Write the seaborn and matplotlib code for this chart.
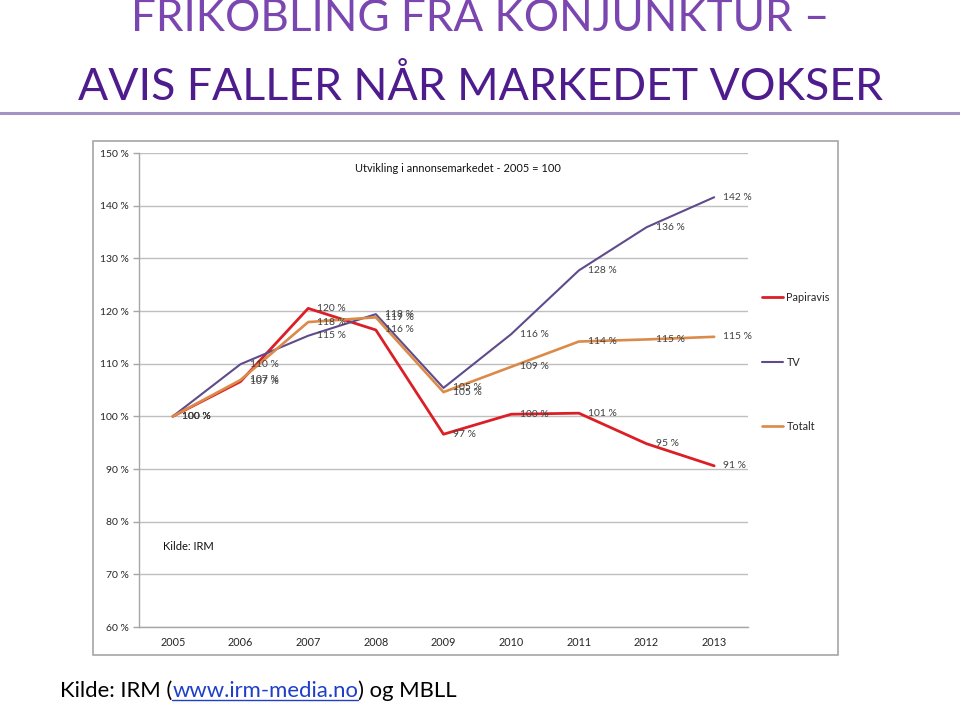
import numpy as np
import pandas as pd
import matplotlib
matplotlib.use('Agg')
import matplotlib.pyplot as plt
import seaborn as sns
from matplotlib.ticker import FuncFormatter
from matplotlib.patches import Rectangle
from matplotlib.lines import Line2D

# ---------------- data ----------------
years = ['2005', '2006', '2007', '2008', '2009', '2010', '2011', '2012', '2013']
series_names = ['Papiravis', 'TV', 'Totalt']
papiravis = [100.0, 106.6, 120.5, 116.4, 96.6, 100.4, 100.6, 94.8, 90.6]
tv = [100.0, 109.9, 115.3, 119.4, 105.4, 115.6, 127.7, 135.9, 141.6]
totalt = [100.0, 106.9, 117.9, 118.8, 104.6, 109.4, 114.2, 114.6, 115.1]
y_ticks = [60, 70, 80, 90, 100, 110, 120, 130, 140, 150]

title_line1 = 'FRIKOBLING FRA KONJUNKTUR \u2013'
title_line2 = 'AVIS FALLER N\u00c5R MARKEDET VOKSER'
chart_title = 'Utvikling i annonsemarkedet - 2005 = 100'
source_note = 'Kilde: IRM'
footer_parts = ['Kilde: IRM (', 'www.irm-media.no', ') og MBLL']

df = pd.DataFrame({
    'Year': years * 3,
    'idx': list(range(len(years))) * 3,
    'Series': sum([[n] * len(years) for n in series_names], []),
    'Value': papiravis + tv + totalt,
})

colors = {'Papiravis': '#DC1E26', 'TV': '#5F4B8B', 'Totalt': '#DB8A48'}
widths = {'Papiravis': 2.0, 'TV': 1.5, 'Totalt': 1.9}

# ---------------- style ----------------
sns.set_theme(style='white')
plt.rcParams['font.family'] = ['Lato', 'DejaVu Sans']

W, H = 960, 702
fig = plt.figure(figsize=(9.6, 7.02), dpi=100)


def fx(px):
    return px / W


def fy(py):
    return 1 - py / H


# chart box
fig.patches.append(Rectangle((fx(93), fy(655)), fx(838) - fx(93), fy(141) - fy(655),
                             transform=fig.transFigure, fill=False, ec='#A6A6A6', lw=1.2))

ax = fig.add_axes([fx(139), fy(627), fx(748) - fx(139), fy(153) - fy(627)])
ax.set_facecolor('none')

for name in series_names:
    sub = df[df['Series'] == name]
    sns.lineplot(data=sub, x='idx', y='Value', color=colors[name], lw=widths[name],
                 ax=ax, label=name)

for name in series_names:
    sub = df[df['Series'] == name]
    for i, v in zip(sub['idx'], sub['Value']):
        ax.annotate(f"{int(round(v))} %", (i, v), xytext=(6.5, 0), textcoords='offset points',
                    ha='left', va='center', fontsize=7.4, color='#404040')

ax.set_xlim(-0.5, len(years) - 0.5)
ax.set_ylim(60, 150)
ax.set_yticks(y_ticks)
ax.yaxis.set_major_formatter(FuncFormatter(lambda v, p: f"{int(v)} %"))
ax.set_xticks(range(len(years)))
ax.set_xticklabels(years)
ax.set_xticks(np.arange(-0.5, len(years), 1.0), minor=True)
ax.tick_params(axis='x', which='major', length=0, pad=7, labelsize=7.8, labelcolor='#262626')
ax.tick_params(axis='x', which='minor', length=4, width=1, color='#A6A6A6', direction='out')
ax.tick_params(axis='y', length=4, width=1, color='#A6A6A6', pad=3.5, labelsize=7.5,
               labelcolor='#262626', left=True)
ax.set_xlabel('')
ax.set_ylabel('')
ax.grid(axis='y', color='#BFBFBF', lw=1)
ax.grid(axis='x', visible=False)
for s in ['top', 'right']:
    ax.spines[s].set_visible(False)
for s in ['left', 'bottom']:
    ax.spines[s].set_color('#A6A6A6')
    ax.spines[s].set_linewidth(1)

handles, labels = ax.get_legend_handles_labels()
if ax.get_legend() is not None:
    ax.get_legend().remove()
fig.legend(handles, labels, loc='upper left', bbox_to_anchor=(fx(762), fy(292)),
           frameon=False, fontsize=7.8, handlelength=1.95, handletextpad=0.3,
           labelspacing=4.95, borderpad=0, borderaxespad=0)

fig.text(fx(458), fy(169), chart_title, ha='center', va='center', fontsize=7.9, color='#111111')
fig.text(fx(163), fy(547), source_note, ha='left', va='center', fontsize=8, color='#111111')

# ---------------- titles ----------------
fig.canvas.draw()
renderer = fig.canvas.get_renderer()


def fit_width(t, target_px):
    w = t.get_window_extent(renderer).width
    t.set_fontsize(t.get_fontsize() * target_px / w)


t1 = fig.text(0.5, fy(31), title_line1, ha='center', va='baseline', fontsize=40, color='#7B46B0')
fit_width(t1, 699)
t2 = fig.text(0.5, fy(100), title_line2, ha='center', va='baseline', fontsize=40, color='#4F1C8E')
fit_width(t2, 804)

fig.add_artist(Line2D([0, 1], [fy(113), fy(113)], transform=fig.transFigure,
                      color='#A592C2', lw=2.2))

# footer with link
fs = 17
x = 60
tmp = fig.text(fx(x), fy(697), ''.join(footer_parts), fontsize=fs, va='baseline')
fig.canvas.draw()
fs = fs * 396 / tmp.get_window_extent(renderer).width
tmp.remove()
cols = ['black', '#1F3FC8', 'black']
for part, c in zip(footer_parts, cols):
    t = fig.text(fx(x), fy(697), part, fontsize=fs, va='baseline', ha='left', color=c)
    fig.canvas.draw()
    bb = t.get_window_extent(renderer)
    if c != 'black':
        fig.add_artist(Line2D([fx(x), fx(x + bb.width)], [fy(699.5), fy(699.5)],
                              transform=fig.transFigure, color=c, lw=1))
    x += bb.width

fig.savefig('out.png', dpi=100)
